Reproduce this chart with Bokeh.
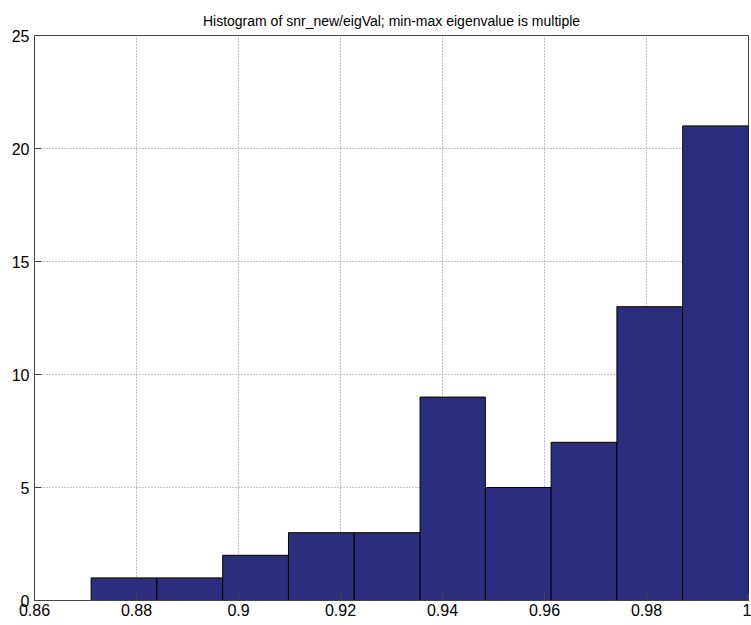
from bokeh.plotting import figure
from bokeh.models import FixedTicker, Range1d
from bokeh.embed import file_html
from bokeh.resources import INLINE

# Data
bin_edges = [0.8711, 0.8840, 0.8969, 0.9098, 0.9227, 0.9356, 0.9484, 0.9613, 0.9742, 0.9871, 1.0000]
counts = [1, 1, 2, 3, 3, 9, 5, 7, 13, 21]
x_ticks = [0.86, 0.88, 0.90, 0.92, 0.94, 0.96, 0.98, 1.00]
x_tick_labels = ["0.86", "0.88", "0.9", "0.92", "0.94", "0.96", "0.98", "1"]
y_ticks = [0, 5, 10, 15, 20, 25]
y_tick_labels = ["0", "5", "10", "15", "20", "25"]
title_text = "Histogram of snr_new/eigVal; min-max eigenvalue is multiple"

FONT = "Liberation Sans"

p = figure(frame_width=714, frame_height=565, output_backend="svg", toolbar_location=None,
           x_range=Range1d(0.86, 1.0), y_range=Range1d(0, 25),
           min_border_left=34, min_border_right=3, min_border_top=35, min_border_bottom=5)
p.title.text = title_text
p.title.align = "center"
p.title.text_font = FONT
p.title.text_font_size = "14px"
p.title.text_font_style = "normal"
p.title.text_color = "black"
p.title.offset = 0
p.title.standoff = 14

p.quad(left=bin_edges[:-1], right=bin_edges[1:], bottom=0, top=counts,
       fill_color="#2b2e7e", line_color="black", line_width=1)

for ax in (p.xaxis[0], p.yaxis[0]):
    ax.major_label_text_font = FONT
    ax.major_label_text_font_size = "16px"
    ax.major_label_text_color = "black"
    ax.major_tick_in = 7
    ax.major_tick_out = 0
    ax.minor_tick_in = 0
    ax.minor_tick_out = 0
    ax.axis_line_color = "#444444"
    ax.major_tick_line_color = "#444444"
p.xaxis.major_label_standoff = 3
p.yaxis.major_label_standoff = 5

p.xaxis.ticker = FixedTicker(ticks=x_ticks)
p.yaxis.ticker = FixedTicker(ticks=y_ticks)
p.xaxis.major_label_overrides = {t: l for t, l in zip(x_ticks, x_tick_labels)}
p.yaxis.major_label_overrides = {t: l for t, l in zip(y_ticks, y_tick_labels)}

for g in (p.xgrid[0], p.ygrid[0]):
    g.grid_line_color = "#888888"
    g.grid_line_dash = "1 2"
    g.grid_line_width = 1
p.xgrid.ticker = FixedTicker(ticks=x_ticks)
p.ygrid.ticker = FixedTicker(ticks=y_ticks)

p.outline_line_color = "#444444"
p.outline_line_width = 1
p.outline_line_alpha = 1
p.background_fill_color = "white"
p.border_fill_color = "white"

open("out.html", "w").write(file_html(p, INLINE))
